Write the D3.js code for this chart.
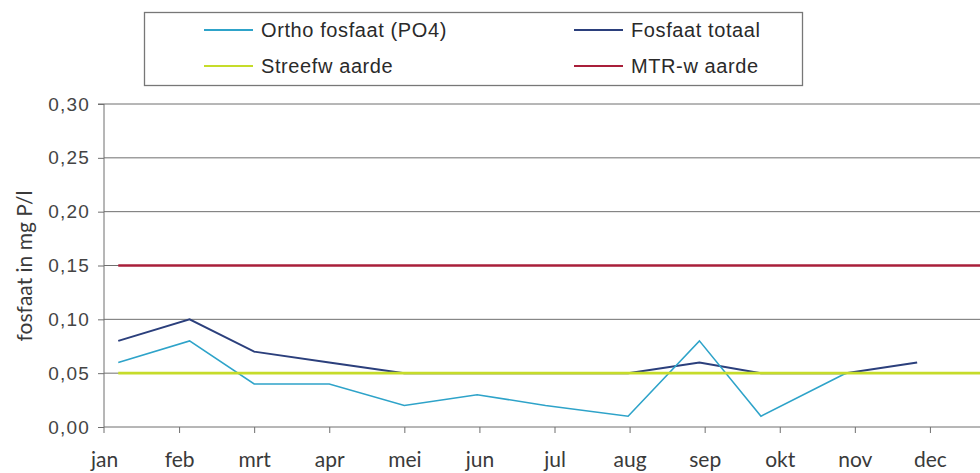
<!DOCTYPE html>
<html><head><meta charset="utf-8">
<script src="https://cdn.jsdelivr.net/npm/d3@7"></script>
<style>body{margin:0;background:#fff;}svg{display:block;}</style>
</head><body>
<svg id="chart" width="980" height="473"></svg>
<script>
// ---- data ----
const months = ["jan","feb","mrt","apr","mei","jun","jul","aug","sep","okt","nov","dec"];
const yTicks = [0, 0.05, 0.10, 0.15, 0.20, 0.25, 0.30];
// sampling moments as fractional month positions (0 = 1 jan)
const sampleMonths = [0.19, 1.14, 2.0, 3.0, 4.0, 4.97, 5.88, 6.98, 7.93, 8.75, 9.88, 10.83];
const ortho  = [0.06, 0.08, 0.04, 0.04, 0.02, 0.03, 0.02, 0.01, 0.08, 0.01, 0.05, null];
const totaal = [0.08, 0.10, 0.07, 0.06, 0.05, 0.05, 0.05, 0.05, 0.06, 0.05, 0.05, 0.06];
const normMonths = [0.19, 12];
const streef = [0.05, 0.05];
const mtr = [0.15, 0.15];
const seriesNames = ["Ortho fosfaat (PO4)", "Fosfaat totaal", "Streefw aarde", "MTR-w aarde"];
const seriesColors = ["#2ea3c9", "#2b3f7c", "#c6dc2a", "#a91f3a"];

// ---- layout ----
const svg = d3.select("#chart");
const mLeft = 104, mTop = 104, mBottom = 427, mRight = 1005;
const x = d3.scaleLinear().domain([0, 12]).range([mLeft, mRight]);
const y = d3.scaleLinear().domain([0, 0.30]).range([mBottom, mTop]);

// gridlines
svg.append("g").selectAll("line").data(yTicks.filter(d => d > 0)).join("line")
  .attr("x1", mLeft).attr("x2", 980)
  .attr("y1", d => y(d)).attr("y2", d => y(d))
  .attr("stroke", "#6f6f6f").attr("stroke-width", 1);

// y axis
const yAxis = d3.axisLeft(y).tickValues(yTicks).tickSize(6).tickPadding(8)
  .tickFormat(d => d3.format(".2f")(d).replace(".", ","));
const gy = svg.append("g").attr("transform", `translate(${mLeft},0)`).call(yAxis);
gy.select(".domain").attr("stroke", "#6f6f6f").attr("d", `M-6,${mTop}H0V${mBottom + 6}`);
gy.selectAll(".tick line").attr("stroke", "#6f6f6f");
gy.selectAll("text").attr("font-family", "Liberation Sans, Arial, sans-serif")
  .attr("font-size", 19).attr("letter-spacing", 1.2).attr("fill", "#444");

// x axis
const xAxis = d3.axisBottom(x).tickValues(d3.range(12)).tickSize(6).tickPadding(19)
  .tickFormat(i => months[i]);
const gx = svg.append("g").attr("transform", `translate(0,${mBottom})`).call(xAxis);
gx.select(".domain").attr("stroke", "#6f6f6f").attr("d", `M${mLeft},0H980`);
gx.selectAll(".tick line").attr("stroke", "#6f6f6f");
gx.selectAll(".tick").filter(d => d === 0).select("line").remove();
gx.selectAll("text").attr("font-family", "Lato, 'Open Sans', sans-serif")
  .attr("font-size", 21).attr("fill", "#3a3a3a");

// y title
svg.append("text").attr("transform", `translate(32,266) rotate(-90)`)
  .attr("text-anchor", "middle").attr("font-family", "Lato, 'Open Sans', sans-serif")
  .attr("font-size", 21).attr("fill", "#3a3a3a").text("fosfaat in mg P/l");

// lines
const line = d3.line().defined(d => d[1] != null).x(d => x(d[0])).y(d => y(d[1]));
const plot = svg.append("g");
plot.append("path").datum(sampleMonths.map((m, i) => [m, totaal[i]]))
  .attr("d", line).attr("fill", "none").attr("stroke", seriesColors[1]).attr("stroke-width", 2);
plot.append("path").datum(sampleMonths.map((m, i) => [m, ortho[i]]))
  .attr("d", line).attr("fill", "none").attr("stroke", seriesColors[0]).attr("stroke-width", 1.6);
plot.append("path").datum(normMonths.map((m, i) => [m, streef[i]]))
  .attr("d", line).attr("fill", "none").attr("stroke", seriesColors[2]).attr("stroke-width", 2.6);
plot.append("path").datum(normMonths.map((m, i) => [m, mtr[i]]))
  .attr("d", line).attr("fill", "none").attr("stroke", seriesColors[3]).attr("stroke-width", 2.6);

// legend
const lg = svg.append("g");
lg.append("rect").attr("x", 144.5).attr("y", 12.5).attr("width", 658).attr("height", 73)
  .attr("fill", "#fff").attr("stroke", "#777").attr("stroke-width", 1.3);
const legPos = [[204, 30], [574, 30], [204, 66], [574, 66]];
seriesNames.forEach((n, i) => {
  const [lx, ly] = legPos[i];
  lg.append("line").attr("x1", lx).attr("x2", lx + 49).attr("y1", ly).attr("y2", ly)
    .attr("stroke", seriesColors[i]).attr("stroke-width", 2);
  lg.append("text").attr("x", lx + 57).attr("y", ly + 7)
    .attr("font-family", "Liberation Sans, Arial, sans-serif").attr("font-size", 20)
    .attr("letter-spacing", 0.6).attr("fill", "#2a2a2a").text(n);
});
</script>
</body></html>
